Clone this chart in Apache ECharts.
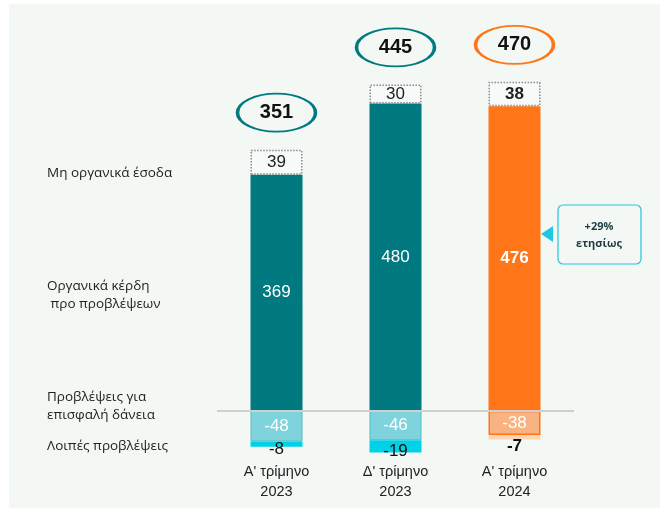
<!DOCTYPE html>
<html>
<head>
<meta charset="utf-8">
<script src="https://cdn.jsdelivr.net/npm/echarts@6/dist/echarts.min.js"></script>
<style>
html,body{margin:0;padding:0;background:#fff;}
#main{width:660px;height:508px;}
</style>
</head>
<body>
<div id="main"></div>
<script>
// κατηγορίες και τιμές
var categories = ["A' τρίμηνο\n2023", "Δ' τρίμηνο\n2023", "A' τρίμηνο\n2024"];
var organic = [369, 480, 476];
var nonOrganic = [39, 30, 38];
var provisions = [-48, -46, -38];
var otherProv = [-8, -19, -7];
var totals = [351, 445, 470];
var seriesNames = ['Μη οργανικά έσοδα', 'Οργανικά κέρδη\n προ προβλέψεων', 'Προβλέψεις για\nεπισφαλή δάνεια', 'Λοιπές προβλέψεις'];
var callout = '+29%\nετησίως';

var teal = '#007a80', orange = '#ff7518', bg = '#f3f8f5';
var numFont = 'Liberation Sans';

var myChart = echarts.init(document.getElementById('main'));

function barColor(i) { return i === 2 ? orange : teal; }

var organicData = organic.map(function (v, i) {
    return {value: v, itemStyle: {color: barColor(i)},
        label: {fontWeight: i === 2 ? 'bold' : 'normal'}};
});
var nonOrganicData = nonOrganic.map(function (v, i) {
    return {value: v, label: {fontWeight: i === 2 ? 'bold' : 'normal'}};
});
var provData = provisions.map(function (v, i) {
    return {value: v, itemStyle: i === 2 ?
        {color: '#f9b382', borderColor: orange, borderWidth: 1.5} :
        {color: '#7fd3dc', borderColor: '#55bcc6', borderWidth: 1}};
});
var otherData = otherProv.map(function (v, i) {
    return {value: v, itemStyle: {color: i === 2 ? '#fcd5b6' : '#00d2e6'},
        label: {offset: [0, i === 2 ? 9 : 5], fontWeight: i === 2 ? 'bold' : 'normal'}};
});
var topData = organic.map(function (v, i) {
    return {value: v + nonOrganic[i], itemStyle: {borderColor: barColor(i)},
        label: {formatter: String(totals[i])}};
});

var leftY = [173, 295, 406, 446];
var graphics = [
    {type: 'rect', shape: {x: 9, y: 4, width: 660, height: 510}, style: {fill: bg}, z: -10}
];
seriesNames.forEach(function (n, i) {
    graphics.push({type: 'text', left: 47, top: leftY[i] - (n.indexOf('\n') >= 0 ? 18 : 9),
        style: {text: n, fontSize: 13.5, fontFamily: 'Open Sans', fill: '#222', lineHeight: 18}});
});
graphics.push({type: 'rect', shape: {x: 558, y: 205, width: 83, height: 59, r: 5},
    style: {fill: bg, stroke: '#22c6dc', lineWidth: 1.2}});
graphics.push({type: 'polygon', shape: {points: [[541, 234], [553, 226], [553, 242]]},
    style: {fill: '#1ec8e0'}});
graphics.push({type: 'text', x: 599, y: 235,
    style: {text: callout, fontSize: 11, fontWeight: 'bold', fontFamily: 'Open Sans',
        fill: '#1d3c42', align: 'center', verticalAlign: 'middle', lineHeight: 17}});

var option = {
    backgroundColor: '#fff',
    animation: false,
    graphic: graphics,
    grid: {left: 217, right: 86, top: 14, height: 448},
    xAxis: {
        type: 'category',
        data: categories,
        axisLine: {show: false},
        axisTick: {show: false},
        axisLabel: {margin: 0, color: '#222', fontSize: 14.5, lineHeight: 20, fontFamily: numFont}
    },
    yAxis: {
        type: 'value', min: -80, max: 620,
        show: false, splitLine: {show: false}
    },
    series: [
        {
            type: 'line', data: [], z: 1,
            markLine: {
                silent: true, symbol: 'none', label: {show: false},
                lineStyle: {color: '#cfcfcf', width: 2, type: 'solid'},
                data: [{yAxis: 0}]
            }
        },
        {
            name: seriesNames[1], type: 'bar', stack: 'a', barWidth: 52, z: 2,
            data: organicData,
            label: {show: true, position: 'inside', color: '#fff', fontSize: 17, fontFamily: numFont}
        },
        {
            name: seriesNames[0], type: 'bar', stack: 'a', barWidth: 52, z: 2,
            data: nonOrganicData,
            itemStyle: {color: '#f7faf9', borderColor: '#8a8a8a', borderWidth: 1.5, borderType: 'dotted'},
            label: {show: true, position: 'inside', color: '#222', fontSize: 17, fontFamily: numFont}
        },
        {
            name: seriesNames[2], type: 'bar', stack: 'a', barWidth: 52, z: 2,
            data: provData,
            label: {show: true, position: 'inside', color: '#fff', fontSize: 17, fontFamily: numFont}
        },
        {
            name: seriesNames[3], type: 'bar', stack: 'a', barWidth: 52, z: 2,
            data: otherData,
            label: {show: true, position: 'inside', color: '#111', fontSize: 17, fontFamily: numFont}
        },
        {
            type: 'scatter', z: 3,
            symbol: 'path://M0,20A40,20,0,1,1,80,20A40,20,0,1,1,0,20Z',
            symbolSize: [78, 38],
            symbolOffset: [0, -37],
            itemStyle: {color: bg, borderWidth: 2.5, opacity: 1},
            data: topData,
            label: {show: true, position: 'inside', color: '#111', fontSize: 20,
                fontWeight: 'bold', fontFamily: numFont}
        }
    ]
};

myChart.setOption(option);
</script>
</body>
</html>
